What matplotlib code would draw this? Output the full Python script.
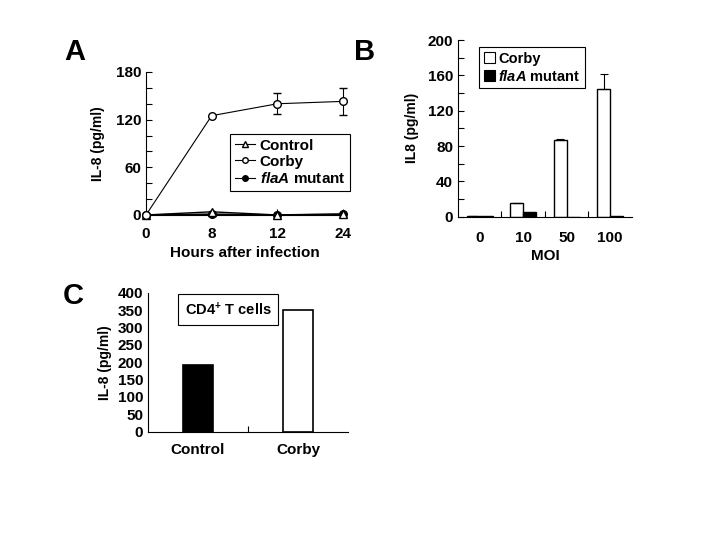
import matplotlib
matplotlib.use("Agg")
import matplotlib.pyplot as plt
import numpy as np
from matplotlib.lines import Line2D
from matplotlib.patches import Patch

plt.rcParams['font.family'] = ['Liberation Sans', 'DejaVu Sans']
plt.rcParams['font.weight'] = 'bold'
plt.rcParams['mathtext.fontset'] = 'custom'
plt.rcParams['mathtext.rm'] = 'Liberation Sans:bold'
plt.rcParams['mathtext.bf'] = 'Liberation Sans:bold'
plt.rcParams['mathtext.it'] = 'Liberation Sans:bold:italic'

# Panel A data
hours = ['0', '8', '12', '24']
control_a = [0, 4, 0, 1]
corby_a = [0, 125, 140, 143]
corby_a_err = [0, 0, 13, 17]
flaa_a = [0, 1, 0, 1]

# Panel B data
moi = ['0', '10', '50', '100']
corby_b = [1, 16, 87, 144]
corby_b_err = [0, 0, 1, 17]
flaa_b = [1, 5, 0, 1]

# Panel C data
groups_c = ['Control', 'Corby']
values_c = [193, 350]

fig = plt.figure(figsize=(7.2, 5.4), dpi=100)

def style(ax):
    for s in ['top', 'right']:
        ax.spines[s].set_visible(False)
    ax.tick_params(direction='in', which='both', labelsize=11, width=0.8)
    ax.tick_params(which='major', length=4)
    ax.tick_params(which='minor', length=4)
    plt.setp(ax.get_xticklabels() + ax.get_yticklabels(), fontweight='bold')

# ---------- Panel A ----------
axA = fig.add_axes([0.2028, 0.6019, 0.2736, 0.2648])
xa = np.arange(len(hours))
axA.plot(xa, flaa_a, color='black', marker='o', markersize=5.5, lw=1.2,
         markerfacecolor='black', zorder=3, clip_on=False)
axA.plot(xa, control_a, color='black', marker='^', markersize=5.5, lw=1.0,
         markerfacecolor='white', zorder=3, clip_on=False)
axA.errorbar(xa, corby_a, yerr=corby_a_err,
             color='black', marker='o', markersize=5.5, lw=0.8,
             markerfacecolor='white', capsize=3, elinewidth=0.8, zorder=4, clip_on=False)
axA.set_xlim(0, 3)
axA.set_ylim(0, 180)
axA.set_yticks([0, 60, 120, 180])
axA.set_yticks(np.arange(0, 181, 20), minor=True)
axA.set_xticks(xa)
axA.set_xticklabels(hours)
axA.set_ylabel('IL-8 (pg/ml)', fontsize=10, fontweight='bold', labelpad=8)
axA.set_xlabel('Hours after infection', fontsize=11, fontweight='bold', labelpad=3)
style(axA)
axA.tick_params(axis='x', which='major', pad=9)
hA = [Line2D([0], [0], color='black', lw=0.8, marker='^', markersize=4, markerfacecolor='white'),
      Line2D([0], [0], color='black', lw=0.8, marker='o', markersize=4, markerfacecolor='white'),
      Line2D([0], [0], color='black', lw=0.8, marker='o', markersize=4, markerfacecolor='black')]
legA = axA.legend(hA, ['Control', 'Corby', '$\\mathit{flaA}$ mutant'],
                  loc='upper left', bbox_to_anchor=(0.39, 0.62),
                  fancybox=False, edgecolor='black', framealpha=1,
                  handlelength=1.3, handletextpad=0.3, borderpad=0.3,
                  labelspacing=0.15, prop={'weight': 'bold', 'size': 11})
legA.get_frame().set_linewidth(0.8)

# ---------- Panel B ----------
axB = fig.add_axes([0.636, 0.5987, 0.2417, 0.3272])
xb = np.arange(len(moi))
w = 0.3
axB.bar(xb - w / 2, corby_b, width=w, color='white', edgecolor='black', lw=1.0,
        yerr=[[0] * 4, corby_b_err], error_kw=dict(lw=0.8, capsize=3, capthick=0.8))
axB.bar(xb + w / 2, flaa_b, width=w, color='black', edgecolor='black', lw=1.0)
axB.set_xlim(-0.5, 3.5)
axB.set_ylim(0, 200)
axB.set_yticks(np.arange(0, 201, 40))
axB.set_yticks(np.arange(0, 201, 20), minor=True)
axB.set_xticks(xb)
axB.set_xticklabels(moi)
axB.set_xticks(np.arange(0.5, 3.5, 1), minor=True)
axB.set_ylabel('IL8 (pg/ml)', fontsize=10, fontweight='bold', labelpad=6)
axB.set_xlabel('MOI', fontsize=11, fontweight='bold', labelpad=3)
style(axB)
axB.tick_params(axis='x', which='major', length=0, pad=10)
hB = [Patch(facecolor='white', edgecolor='black', lw=0.8),
      Patch(facecolor='black', edgecolor='black', lw=0.8)]
legB = axB.legend(hB, ['Corby', '$\\mathit{flaA}$ mutant'],
                  loc='upper left', bbox_to_anchor=(0.08, 1.0),
                  fancybox=False, edgecolor='black', framealpha=1,
                  handlelength=0.8, handleheight=0.8, handletextpad=0.2,
                  borderpad=0.3, labelspacing=0.2, prop={'weight': 'bold', 'size': 10.5})
legB.get_frame().set_linewidth(0.8)

# ---------- Panel C ----------
axC = fig.add_axes([0.2056, 0.2006, 0.2778, 0.2574])
xc = np.arange(len(groups_c))
axC.bar(xc, values_c, width=0.3, color=['black', 'white'], edgecolor='black', lw=1.2)
axC.set_xlim(-0.5, 1.5)
axC.set_ylim(0, 400)
axC.set_yticks(np.arange(0, 401, 50))
axC.set_xticks(xc)
axC.set_xticklabels(groups_c)
axC.set_xticks([0.5], minor=True)
axC.set_ylabel('IL-8 (pg/ml)', fontsize=10, fontweight='bold', labelpad=4)
style(axC)
axC.tick_params(axis='x', which='major', length=0, pad=8)
axC.tick_params(axis='y', length=0)
axC.text(0.4, 0.88, 'CD4$^{+}$ T cells', transform=axC.transAxes, ha='center', va='center',
         fontsize=10.5, fontweight='bold',
         bbox=dict(boxstyle='square,pad=0.45', facecolor='white', edgecolor='black', lw=0.8))

# Panel labels
fig.text(0.089, 0.904, 'A', fontsize=21, fontweight='bold', ha='left', va='center')
fig.text(0.491, 0.904, 'B', fontsize=21, fontweight='bold', ha='left', va='center')
fig.text(0.087, 0.452, 'C', fontsize=21, fontweight='bold', ha='left', va='center')

fig.savefig('out.png', dpi=100)
